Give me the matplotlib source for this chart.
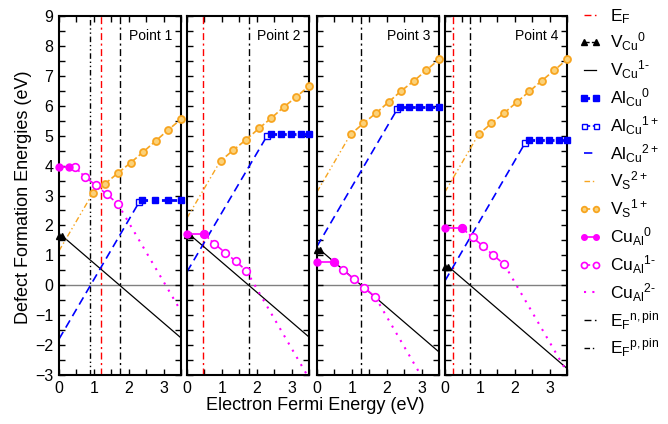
import matplotlib.pyplot as plt
from matplotlib.ticker import MultipleLocator

plt.rcParams['font.family'] = ['Liberation Sans', 'DejaVu Sans']
plt.rcParams['mathtext.fontset'] = 'custom'
plt.rcParams['mathtext.rm'] = 'Liberation Sans'
plt.rcParams['mathtext.it'] = 'Liberation Sans:italic'
plt.rcParams['mathtext.bf'] = 'Liberation Sans:bold'


# ==================================================
# data (eV), one entry per panel
# ==================================================

points = ["Point 1", "Point 2", "Point 3", "Point 4"]

ef = [1.20, 0.47, None, 0.22]
ef_npin = [1.74, 1.77, 1.27, 0.72]
ef_ppin = [0.89, None, None, None]

# V_Cu
vcu0_x = [0.0, 0.1]
vcu0_y = [1.64, 1.67, 1.17, 0.62]
vcu1_x = [0.1, 3.5]
vcu1_y = [[1.64, -1.76], [1.67, -1.73], [1.17, -2.23], [0.62, -2.78]]

# Al_Cu
alcu2_x = [0.0, 2.3]
alcu2_y = [[-1.80, 2.78], [0.45, 5.00], [1.30, 5.88], [0.15, 4.76]]
alcu1_x = [2.3, 2.4]
alcu1_y = [[2.78, 2.85], [5.00, 5.07], [5.88, 5.97], [4.76, 4.87]]
alcu0_x = [[2.39, 2.76, 3.12, 3.50],
           [2.42, 2.70, 2.98, 3.26, 3.50],
           [2.37, 2.65, 2.94, 3.22, 3.50],
           [2.42, 2.70, 2.98, 3.26, 3.50]]
alcu0_y = [2.85, 5.07, 5.97, 4.87]

# V_S
vs2_x = [0.0, 0.93]
vs2_y = [[1.15, 3.00], [2.25, 4.10], [3.12, 4.98], [3.12, 4.98]]
vs1_x = [0.93, 0.97, 1.33, 1.70, 2.06, 2.42, 2.78, 3.14, 3.50]
vs1_y = [[3.00, 3.07, 3.40, 3.76, 4.10, 4.46, 4.83, 5.20, 5.55],
         [4.10, 4.16, 4.52, 4.87, 5.24, 5.59, 5.96, 6.30, 6.66],
         [4.98, 5.05, 5.41, 5.76, 6.13, 6.50, 6.83, 7.19, 7.55],
         [4.98, 5.05, 5.41, 5.76, 6.12, 6.48, 6.84, 7.19, 7.55]]

# Cu_Al
cual0_x = [[0.0, 0.30], [0.0, 0.50], [0.0, 0.48], [0.0, 0.50]]
cual0_y = [3.94, 1.70, 0.78, 1.90]
cual1_x = [[0.46, 0.75, 1.06, 1.37, 1.68],
           [0.50, 0.78, 1.10, 1.40, 1.70],
           [0.48, 0.76, 1.05, 1.36, 1.67],
           [0.50, 0.79, 1.09, 1.39, 1.70]]
cual1_y = [[3.94, 3.62, 3.34, 3.04, 2.73],
           [1.70, 1.39, 1.09, 0.80, 0.49],
           [0.78, 0.50, 0.22, -0.08, -0.39],
           [1.90, 1.60, 1.31, 1.00, 0.70]]
cual2_x = [[1.68, 3.5], [1.70, 3.5], [1.67, 3.5], [1.70, 3.5]]
cual2_y = [[2.73, -0.87], [0.49, -3.11], [-0.39, -4.05], [0.70, -2.90]]


# ==================================================
# figure
# ==================================================

W, H = 668, 424
fig = plt.figure(figsize=(W / 100, H / 100), dpi=100)

lefts = [59, 187, 317, 445]
pw = 122
top, bot = 16, 375

orange = "#f7a520"
blue = "#0000ff"
mag = "#ff00ff"

dashdot = (0, (5, 2.5, 1.5, 2.5))
dashdotdot = (0, (4, 2, 1, 2, 1, 2))

handles = {}

for k in range(4):

    ax = fig.add_axes([lefts[k] / W, (H - bot) / H, pw / W, (bot - top) / H])

    ax.axhline(0, color="gray", lw=1, zorder=1)

    if ef[k] is not None:
        handles["ef"] = ax.axvline(ef[k], color="red", lw=1, ls=dashdot)
    if ef_npin[k] is not None:
        handles["npin"] = ax.axvline(ef_npin[k], color="black", lw=1, ls=dashdot)
    if ef_ppin[k] is not None:
        handles["ppin"] = ax.axvline(ef_ppin[k], color="black", lw=1, ls=dashdotdot)

    handles["vcu0"], = ax.plot(vcu0_x, [vcu0_y[k]] * 2, color="black", lw=1,
                               ls="--", marker="^", ms=5, zorder=5,
                               clip_on=False)
    handles["vcu1"], = ax.plot(vcu1_x, vcu1_y[k], color="black", lw=0.9)

    handles["alcu2"], = ax.plot(alcu2_x, alcu2_y[k], color=blue, lw=1.2,
                                ls=(0, (5, 3)))
    handles["alcu1"], = ax.plot(alcu1_x, alcu1_y[k], color=blue, lw=1.2,
                                ls="--", marker="s", ms=4.5, mfc="white",
                                markevery=[0])
    handles["alcu0"], = ax.plot(alcu0_x[k], [alcu0_y[k]] * len(alcu0_x[k]),
                                color=blue, lw=2, ls=(0, (2, 1.5)),
                                marker="s", ms=5, clip_on=False, zorder=4)

    handles["vs2"], = ax.plot(vs2_x, vs2_y[k], color=orange, lw=1,
                              ls=dashdotdot)
    handles["vs1"], = ax.plot(vs1_x, vs1_y[k], color=orange, lw=1.2,
                              ls="--", marker="o", ms=5, mfc="#fbd27a",
                              mew=1.3, markevery=slice(1, None),
                              clip_on=False, zorder=4)

    handles["cual1"], = ax.plot(cual1_x[k], cual1_y[k], color=mag, lw=1.2,
                                ls="--", marker="o", ms=5.5, mfc="white",
                                mew=1.2, zorder=4)
    handles["cual0"], = ax.plot(cual0_x[k], [cual0_y[k]] * 2, color=mag,
                                lw=1.2, marker="o", ms=5, zorder=5,
                                clip_on=False)
    handles["cual2"], = ax.plot(cual2_x[k], cual2_y[k], color=mag, lw=1.5,
                                ls=(0, (1, 3)))

    ax.text(0.93, 0.965, points[k], transform=ax.transAxes, ha="right",
            va="top", fontsize=10)

    ax.set_xlim(0, 3.5)
    ax.set_ylim(-3, 9)
    ax.set_xticks([0, 1, 2, 3])
    ax.xaxis.set_minor_locator(MultipleLocator(0.5))
    ax.set_yticks(range(-3, 10))
    ax.yaxis.set_minor_locator(MultipleLocator(0.5))
    ax.tick_params(which="both", direction="in", top=True, right=True,
                   length=4, width=1, labelsize=11.5, pad=4)
    if k > 0:
        ax.tick_params(labelleft=False)
    for s in ax.spines.values():
        s.set_linewidth(1.5)

fig.text(24 / W, 1 - 197 / H, "Defect Formation Energies (eV)",
         rotation=90, ha="center", va="center", fontsize=13)
fig.text(315 / W, 1 - 406 / H, "Electron Fermi Energy (eV)",
         ha="center", va="center", fontsize=13)

order = ["ef", "vcu0", "vcu1", "alcu0", "alcu1", "alcu2", "vs2", "vs1",
         "cual0", "cual1", "cual2", "npin", "ppin"]
labels = [r"$\mathrm{E_F}$",
          r"$\mathrm{V_{Cu}}^{\mathrm{0}}$",
          r"$\mathrm{V_{Cu}}^{\mathrm{1\text{-}}}$",
          r"$\mathrm{Al_{Cu}}^{\mathrm{0}}$",
          r"$\mathrm{Al_{Cu}}^{\mathrm{1+}}$",
          r"$\mathrm{Al_{Cu}}^{\mathrm{2+}}$",
          r"$\mathrm{V_{S}}^{\mathrm{2+}}$",
          r"$\mathrm{V_{S}}^{\mathrm{1+}}$",
          r"$\mathrm{Cu_{Al}}^{\mathrm{0}}$",
          r"$\mathrm{Cu_{Al}}^{\mathrm{1\text{-}}}$",
          r"$\mathrm{Cu_{Al}}^{\mathrm{2\text{-}}}$",
          r"$\mathrm{E_F}^{\mathrm{n,pin}}$",
          r"$\mathrm{E_F}^{\mathrm{p,pin}}$"]

fig.legend([handles[o] for o in order], labels, loc="upper left",
           bbox_to_anchor=(572 / W, 1.0), frameon=False, fontsize=12.5,
           handlelength=1.3, handletextpad=0.5, labelspacing=0.3,
           borderaxespad=0.2, borderpad=0.2, numpoints=2, markerscale=0.8)

fig.savefig("out.png", dpi=100)
